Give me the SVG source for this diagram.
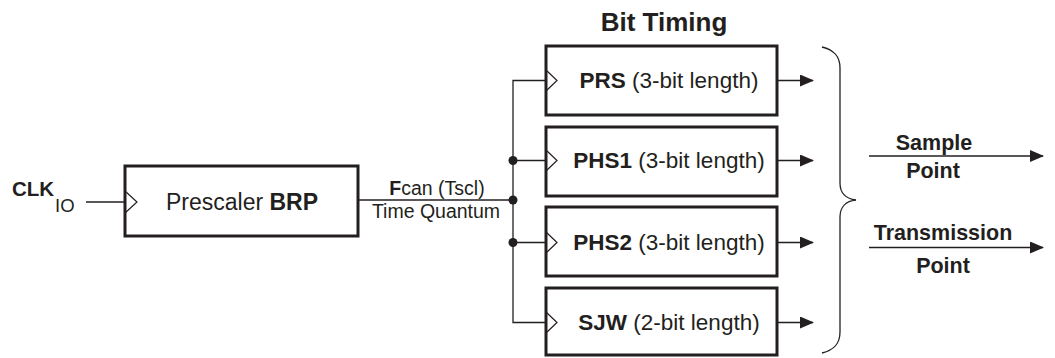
<svg xmlns="http://www.w3.org/2000/svg" width="1055" height="358" viewBox="0 0 1055 358">
<style>
text{font-family:"Liberation Sans",Arial,sans-serif;fill:#231f20}
.b{font-weight:bold}
.box{fill:#fff;stroke:#231f20;stroke-width:3}
.ln{fill:none;stroke:#231f20;stroke-width:1.3}
.clk{fill:none;stroke:#231f20;stroke-width:1.2}
.dot{fill:#231f20}
.t22{font-size:22.5px}
.t20{font-size:21.5px}
.t19{font-size:19.5px}
</style>
<defs>
<marker id="ah" markerWidth="14" markerHeight="12" refX="13" refY="6" orient="auto" markerUnits="userSpaceOnUse">
<path d="M0,0 L14,6 L0,12 Z" fill="#231f20"/>
</marker>
</defs>
<text x="664" y="31" text-anchor="middle" class="b" font-size="26">Bit Timing</text>
<g id="clkio">
<text x="12" y="196" class="b" font-size="20.5">CLK</text>
<text x="55" y="212" font-size="18.5">IO</text>
</g>
<g id="prescaler">
<rect class="box" x="125" y="166" width="233" height="70"/>
<path class="clk" d="M125,191 L137,202 L125,213"/>
<text x="242" y="210" text-anchor="middle" font-size="23">Prescaler <tspan class="b">BRP</tspan></text>
</g>
<g id="prs">
<rect class="box" x="546" y="46" width="231" height="69"/>
<path class="clk" d="M546,70 L557,80.5 L546,91"/>
<text x="669" y="88" text-anchor="middle" class="t22"><tspan class="b">PRS</tspan> (3-bit length)</text>
</g>
<g id="phs1">
<rect class="box" x="546" y="127" width="231" height="69"/>
<path class="clk" d="M546,150 L557,160.5 L546,171"/>
<text x="669" y="168" text-anchor="middle" class="t22"><tspan class="b">PHS1</tspan> (3-bit length)</text>
</g>
<g id="phs2">
<rect class="box" x="546" y="207" width="231" height="69"/>
<path class="clk" d="M546,232 L557,242.5 L546,253"/>
<text x="669" y="250" text-anchor="middle" class="t22"><tspan class="b">PHS2</tspan> (3-bit length)</text>
</g>
<g id="sjw">
<rect class="box" x="546" y="288" width="231" height="67"/>
<path class="clk" d="M546,312 L557,322.5 L546,333"/>
<text x="669" y="330" text-anchor="middle" class="t22"><tspan class="b">SJW</tspan> (2-bit length)</text>
</g>
<g id="connectors">
<line class="ln" x1="86" y1="202" x2="125" y2="202"/>
<line class="ln" x1="358" y1="200" x2="513" y2="200"/>
<text x="437" y="195" text-anchor="middle" class="t19"><tspan class="b">F</tspan>can (Tscl)</text>
<text x="436" y="218" text-anchor="middle" class="t19">Time Quantum</text>
<path class="ln" d="M546,80.5 H513 V322.5 H546"/>
<line class="ln" x1="513" y1="160.5" x2="546" y2="160.5"/>
<line class="ln" x1="513" y1="242.5" x2="546" y2="242.5"/>
<circle class="dot" cx="513" cy="160.5" r="4.5"/>
<circle class="dot" cx="513" cy="200" r="4.5"/>
<circle class="dot" cx="513" cy="242.5" r="4.5"/>
<line class="ln" x1="777" y1="80.5" x2="813" y2="80.5" marker-end="url(#ah)"/>
<line class="ln" x1="777" y1="160.5" x2="813" y2="160.5" marker-end="url(#ah)"/>
<line class="ln" x1="777" y1="242.5" x2="813" y2="242.5" marker-end="url(#ah)"/>
<line class="ln" x1="777" y1="322.5" x2="813" y2="322.5" marker-end="url(#ah)"/>
<path class="ln" d="M822,47 C834,50 840,56 840,68 V183 C840,193 846,199 856,200 C846,201 840,207 840,217 V332 C840,344 834,350 822,353"/>
<line class="ln" x1="869" y1="156" x2="1043" y2="156" marker-end="url(#ah)"/>
<line class="ln" x1="869" y1="247.5" x2="1043" y2="247.5" marker-end="url(#ah)"/>
<text x="934" y="150" text-anchor="middle" class="b t20">Sample</text>
<text x="933" y="178" text-anchor="middle" class="b t20">Point</text>
<text x="943" y="240" text-anchor="middle" class="b t20">Transmission</text>
<text x="943" y="273" text-anchor="middle" class="b t20">Point</text>
</g>
</svg>
